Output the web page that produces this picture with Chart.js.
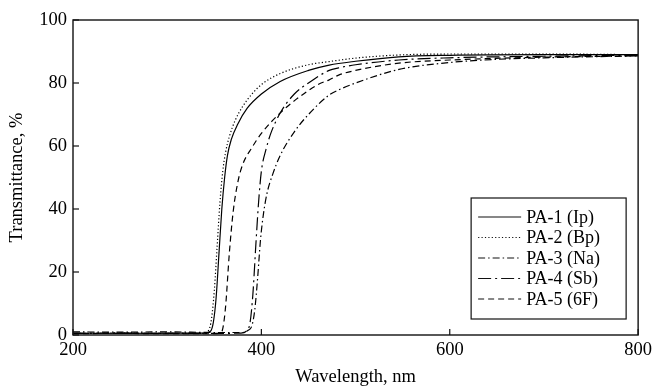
<!DOCTYPE html>
<html><head><meta charset="utf-8">
<script src="https://cdn.jsdelivr.net/npm/chart.js@4.4.0/dist/chart.umd.min.js"></script>
<style>html,body{margin:0;padding:0;background:#fff}#wrap{width:656px;height:391px}</style>
</head><body><div id="wrap"><canvas id="c" width="656" height="391"></canvas></div>
<script>
const xTicks = [200, 400, 600, 800];
const yTicks = [0, 20, 40, 60, 80, 100];
const seriesNames = ['PA-1 (Ip)', 'PA-2 (Bp)', 'PA-3 (Na)', 'PA-4 (Sb)', 'PA-5 (6F)'];

const pa1Nm = [200, 260, 300, 340, 346, 349, 352, 355, 358, 361, 364, 368, 375, 385, 400, 420, 450, 472, 500, 546, 600, 700, 800];
const pa1T  = [0.6, 0.5, 0.6, 0.6, 1.2, 4, 12, 26, 40, 50, 57, 62, 67, 72, 76.5, 80.5, 84, 85.7, 86.9, 88.3, 88.8, 89, 89];

const pa2Nm = [200, 260, 300, 338, 344, 347, 350, 353, 356, 359, 362, 366, 372, 380, 390, 400, 420, 450, 472, 500, 546, 600, 700, 800];
const pa2T  = [0.5, 0.6, 0.5, 0.5, 1.5, 5, 14, 28, 42, 52, 58, 63, 68, 72.5, 76.5, 79.5, 83, 85.8, 86.8, 87.9, 88.9, 89.2, 89.2, 89];

const pa3Nm = [200, 250, 300, 350, 380, 386, 390, 393, 396, 399, 402, 406, 412, 420, 435, 450, 472, 482, 500, 546, 600, 650, 700, 800];
const pa3T  = [1.0, 0.9, 1.0, 0.8, 0.8, 1.5, 3, 8, 18, 30, 38, 45, 51, 57, 64.5, 70, 76.2, 77.8, 80, 84.3, 86.5, 87.5, 88, 88.6];

const pa4Nm = [200, 250, 300, 350, 378, 384, 388, 391, 394, 397, 400, 405, 410, 420, 435, 450, 472, 482, 500, 546, 600, 700, 800];
const pa4T  = [0.5, 0.6, 0.5, 0.5, 0.6, 1.2, 4, 13, 28, 42, 52, 59, 64, 70.5, 76.5, 80, 84, 84.8, 85.8, 87.3, 88, 88.5, 88.8];

const pa5Nm = [200, 250, 300, 350, 356, 359, 362, 366, 370, 375, 380, 390, 400, 420, 440, 460, 472, 482, 500, 546, 600, 700, 800];
const pa5T  = [0.4, 0.5, 0.4, 0.4, 0.6, 2, 9, 26, 39, 48.5, 54, 59.5, 64, 70.5, 75.5, 79.5, 81, 82.5, 84, 86.3, 87.3, 88.2, 88.6];

const seriesNm = [pa1Nm, pa2Nm, pa3Nm, pa4Nm, pa5Nm];
const seriesT  = [pa1T, pa2T, pa3T, pa4T, pa5T];
const dashes = [[], [1.2, 2.2], [7, 3, 1.5, 3], [13, 4, 2, 4], [6, 4]];

const FONT = '"Liberation Serif", "Times New Roman", serif';

const datasets = seriesNames.map((name, i) => ({
  label: name,
  data: seriesNm[i].map((nm, k) => ({x: nm, y: seriesT[i][k]})),
  borderColor: '#000',
  borderWidth: 1.2,
  borderDash: dashes[i],
  pointRadius: 0,
  fill: false,
  cubicInterpolationMode: 'monotone'
}));

const framePlugin = {
  id: 'frame',
  afterDatasetsDraw(chart) {
    const {ctx, chartArea: a, scales: {x, y}} = chart;
    ctx.save();
    ctx.strokeStyle = '#111';
    ctx.lineWidth = 1.4;
    ctx.setLineDash([]);
    ctx.strokeRect(a.left, a.top, a.right - a.left, a.bottom - a.top);
    ctx.lineWidth = 1.2;
    yTicks.forEach(v => {
      const py = y.getPixelForValue(v);
      ctx.beginPath(); ctx.moveTo(a.left, py); ctx.lineTo(a.left + 6, py); ctx.stroke();
    });
    xTicks.forEach(v => {
      const px = x.getPixelForValue(v);
      ctx.beginPath(); ctx.moveTo(px, a.bottom); ctx.lineTo(px, a.bottom - 6); ctx.stroke();
    });
    // legend
    const lw = 155, lh = 121;
    const lx = a.right - 167, ly = a.top + 178;
    ctx.fillStyle = '#fff';
    ctx.fillRect(lx, ly, lw, lh);
    ctx.lineWidth = 1.2;
    ctx.strokeRect(lx, ly, lw, lh);
    ctx.font = '18px ' + FONT;
    ctx.textBaseline = 'middle';
    ctx.textAlign = 'left';
    ctx.fillStyle = '#000';
    chart.data.datasets.forEach((ds, i) => {
      const ry = ly + 19 + i * 20.5;
      ctx.setLineDash(ds.borderDash);
      ctx.lineWidth = 1.2;
      ctx.beginPath(); ctx.moveTo(lx + 7, ry); ctx.lineTo(lx + 50, ry); ctx.stroke();
      ctx.setLineDash([]);
      ctx.fillText(ds.label, lx + 55, ry + 1);
    });
    ctx.restore();
  }
};

new Chart(document.getElementById('c'), {
  type: 'line',
  data: {datasets},
  options: {
    responsive: false,
    animation: false,
    devicePixelRatio: 1,
    layout: {padding: {left: 0, top: 20, right: 16, bottom: 0}},
    plugins: {legend: {display: false}, tooltip: {enabled: false}},
    scales: {
      x: {
        type: 'linear', min: 200, max: 800,
        afterFit(s) { s.height = 56; },
        afterBuildTicks(s) { s.ticks = xTicks.map(v => ({value: v})); },
        grid: {display: false, drawTicks: false},
        border: {display: false},
        ticks: {color: '#000', font: {family: FONT, size: 18.5}, padding: 4, maxRotation: 0},
        title: {display: true, text: 'Wavelength, nm', color: '#000', font: {family: FONT, size: 18.5}, padding: {top: 0, bottom: 3}}
      },
      y: {
        type: 'linear', min: 0, max: 100,
        afterFit(s) { s.width = 73; },
        afterBuildTicks(s) { s.ticks = yTicks.map(v => ({value: v})); },
        grid: {display: false, drawTicks: false},
        border: {display: false},
        ticks: {color: '#000', font: {family: FONT, size: 18.5}, padding: 6},
        title: {display: true, text: 'Transmittance, %', color: '#000', font: {family: FONT, size: 18.5}, padding: {top: 6, bottom: 0}}
      }
    }
  },
  plugins: [framePlugin]
});
</script></body></html>
